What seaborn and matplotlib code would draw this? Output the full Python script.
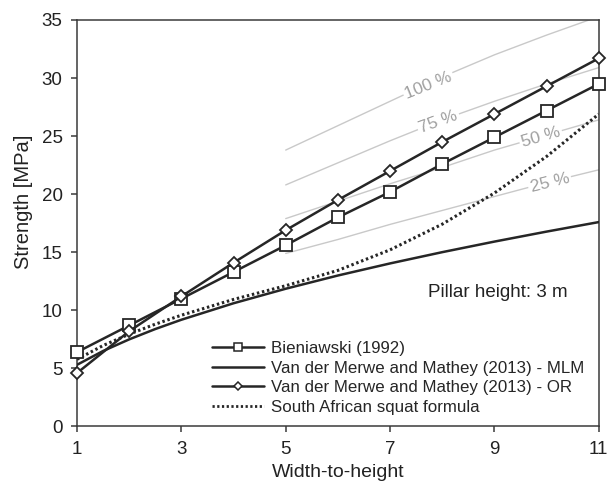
import matplotlib
matplotlib.use("Agg")
import matplotlib.pyplot as plt
from matplotlib.lines import Line2D
import seaborn as sns
import pandas as pd

# ---- data ----
wh = [1, 2, 3, 4, 5, 6, 7, 8, 9, 10, 11]
bieniawski = [6.4, 8.7, 11.0, 13.3, 15.6, 18.0, 20.2, 22.6, 24.9, 27.2, 29.5]
vdm_or = [4.6, 8.2, 11.2, 14.1, 16.9, 19.5, 22.0, 24.5, 26.9, 29.3, 31.7]

wh_fine = [1, 1.5, 2, 2.5, 3, 4, 5, 6, 7, 8, 9, 10, 11]
vdm_mlm = [5.31, 6.50, 7.50, 8.39, 9.19, 10.61, 11.86, 13.00, 14.04, 15.01, 15.92, 16.78, 17.60]
squat = [5.78, 6.97, 7.95, 8.81, 9.58, 10.94, 12.12, 13.44, 15.21, 17.42, 20.10, 23.25, 26.90]

wh_ref = [5, 6, 7, 8, 9, 10, 11]
ref_25 = [14.9, 16.1, 17.4, 18.6, 19.8, 21.0, 22.1]
ref_50 = [17.9, 19.4, 20.9, 22.3, 23.8, 25.1, 26.4]
ref_75 = [20.8, 22.7, 24.6, 26.4, 28.0, 29.5, 30.9]
ref_100 = [23.8, 25.9, 28.0, 30.1, 32.0, 33.7, 35.3]
ref_labels = ["25 %", "50 %", "75 %", "100 %"]
ref_label_x = [10.06, 9.89, 7.93, 7.74]
ref_label_y = [21.0, 24.9, 26.2, 29.35]
ref_label_rot = [14, 16, 20, 22]

x_ticks = [1, 3, 5, 7, 9, 11]
y_ticks = [0, 5, 10, 15, 20, 25, 30, 35]

series_names = ["Bieniawski (1992)",
                "Van der Merwe and Mathey (2013) - MLM",
                "Van der Merwe and Mathey (2013) - OR",
                "South African squat formula"]

# ---- style ----
sns.set_theme(style="ticks")
plt.rcParams["font.family"] = ["Liberation Sans", "DejaVu Sans"]
dark = "#262626"
grey = "#c9c9c9"
plt.rcParams.update({
    "axes.edgecolor": "#3a3a3a",
    "axes.linewidth": 1.1,
    "xtick.color": "#3a3a3a",
    "ytick.color": "#3a3a3a",
    "xtick.labelcolor": "#222222",
    "ytick.labelcolor": "#222222",
    "xtick.major.size": 4.3,
    "ytick.major.size": 4.3,
    "xtick.major.width": 1.1,
    "ytick.major.width": 1.1,
})

fig = plt.figure(figsize=(6.11, 4.83), dpi=100)
ax = fig.add_axes([0.126, 0.117, 0.854, 0.8416])

# reference grey lines
for ys in [ref_25, ref_50, ref_75, ref_100]:
    sns.lineplot(x=wh_ref, y=ys, ax=ax, color=grey, lw=1.0, zorder=1)
for lab, lx, ly, rot in zip(ref_labels, ref_label_x, ref_label_y, ref_label_rot):
    ax.text(lx, ly, lab, color="#a0a0a0", fontsize=12.5, rotation=rot,
            ha="center", va="center", rotation_mode="anchor", zorder=2,
            bbox=dict(fc="white", ec="none", pad=1.5))

# main series
sns.lineplot(x=wh_fine, y=vdm_mlm, ax=ax, color=dark, lw=1.8, zorder=3)
sns.lineplot(x=wh_fine, y=squat, ax=ax, color=dark, lw=2.2,
             linestyle=(0, (0.8, 0.9)), zorder=3)
sns.lineplot(x=wh, y=bieniawski, ax=ax, color=dark, lw=1.8, marker="s",
             markersize=8, markerfacecolor="white", markeredgecolor=dark,
             markeredgewidth=1.3, zorder=4, clip_on=False)
sns.lineplot(x=wh, y=vdm_or, ax=ax, color=dark, lw=1.8, marker="D",
             markersize=6.5, markerfacecolor="white", markeredgecolor=dark,
             markeredgewidth=1.3, zorder=4, clip_on=False)

ax.set_xlim(1, 11)
ax.set_ylim(0, 35)
ax.set_xticks(x_ticks)
ax.set_yticks(y_ticks)
ax.tick_params(axis="y", labelsize=13.5, pad=6)
ax.tick_params(axis="x", labelsize=13.5, pad=6)
ax.set_xlabel("Width-to-height", fontsize=14, color="#222222")
ax.set_ylabel("Strength [MPa]", fontsize=14.5, color="#222222")
ax.yaxis.set_label_coords(-0.084, 0.552)
ax.xaxis.set_label_coords(0.5, -0.093)
for s in ax.spines.values():
    s.set_visible(True)

ax.text(0.941, 0.330, "Pillar height: 3 m", transform=ax.transAxes,
        ha="right", va="center", fontsize=13.5, color="#222222")

handles = [
    Line2D([], [], color=dark, lw=1.8, marker="s", markersize=5.5,
           markerfacecolor="white", markeredgecolor=dark, markeredgewidth=1.1),
    Line2D([], [], color=dark, lw=1.8),
    Line2D([], [], color=dark, lw=1.8, marker="D", markersize=4.2,
           markerfacecolor="white", markeredgecolor=dark, markeredgewidth=1.1),
    Line2D([], [], color=dark, lw=2.0, linestyle=(0, (0.8, 0.9))),
]
ax.legend(handles, series_names, loc="lower left",
          bbox_to_anchor=(0.258, 0.028), frameon=False, fontsize=12.2,
          handlelength=3.1, handletextpad=0.4, labelspacing=0.28,
          borderpad=0, borderaxespad=0)

fig.savefig("out.png", dpi=100, facecolor="white")
